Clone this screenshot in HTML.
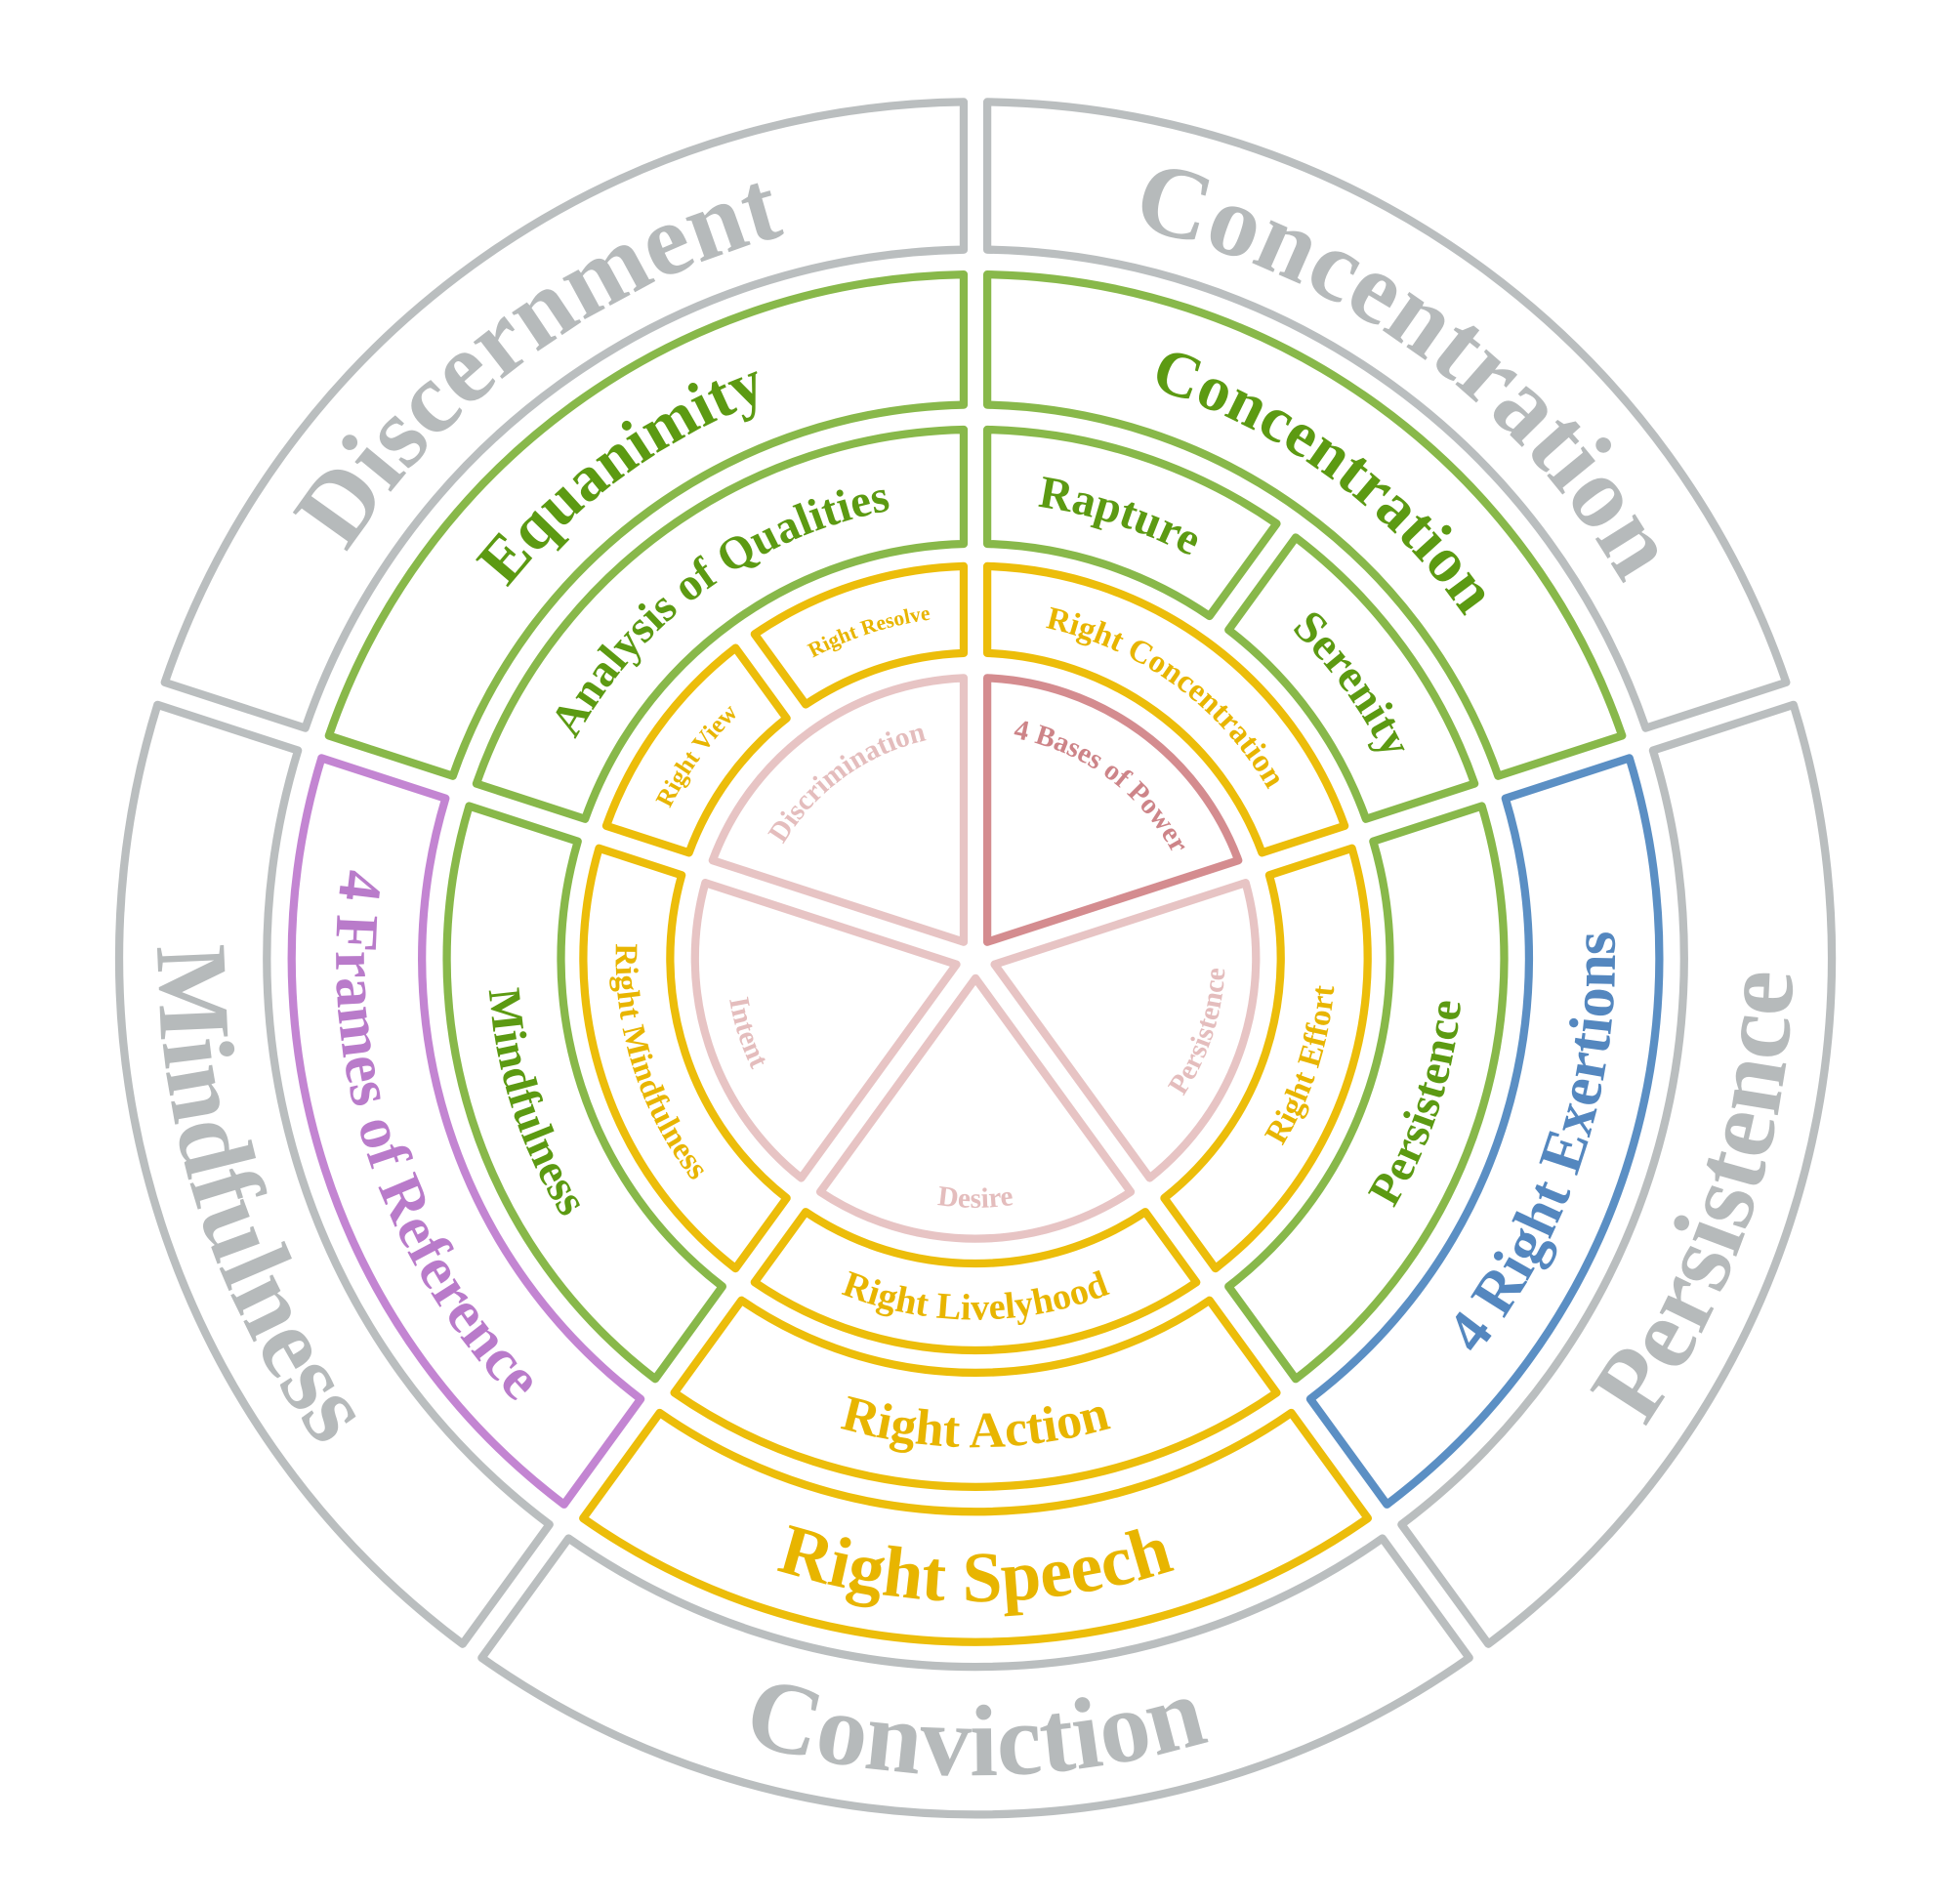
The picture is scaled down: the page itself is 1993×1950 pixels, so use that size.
<!DOCTYPE html>
<html><head><meta charset="utf-8">
<style>
html,body{margin:0;padding:0;background:#fff;}
svg{display:block;}
text{font-family:"Liberation Serif",serif;font-weight:bold;text-anchor:middle;}
.gy{fill:#b6babb;font-size:82px;}
.gr2{fill:#5c9a12;font-size:52px;}
.gr3{fill:#5c9a12;font-size:37px;}
.y2{fill:#e8b500;font-size:58px;}
.y3{fill:#e8b500;font-size:41px;}
.y4{fill:#e8b500;font-size:26px;}
.pu{fill:#b97bca;font-size:49px;}
.bl{fill:#5487bf;font-size:49px;}
.pk{fill:#e4bdbd;font-size:23px;}
.pkd{fill:#cd8488;font-size:23px;}
</style></head>
<body>
<svg id="s" width="1993" height="1950" viewBox="0 0 1568 1534" xmlns="http://www.w3.org/2000/svg" xmlns:xlink="http://www.w3.org/1999/xlink">
<g id="segs" fill="none" stroke-width="6.5" stroke-linejoin="round"></g>
<defs id="defs"></defs>
<text class="gy"><textPath href="#p_disc" xlink:href="#p_disc" startOffset="50%">Discernment</textPath></text>
<text class="gy"><textPath href="#p_conc" xlink:href="#p_conc" startOffset="50%">Concentration</textPath></text>
<text class="gy"><textPath href="#p_pers" xlink:href="#p_pers" startOffset="50%">Persistence</textPath></text>
<text class="gy"><textPath href="#p_conv" xlink:href="#p_conv" startOffset="50%">Conviction</textPath></text>
<text class="gy"><textPath href="#p_mind" xlink:href="#p_mind" startOffset="50%">Mindfulness</textPath></text>

<text class="gr2"><textPath href="#p_equa" xlink:href="#p_equa" startOffset="50%">Equanimity</textPath></text>
<text class="gr2"><textPath href="#p_conc2" xlink:href="#p_conc2" startOffset="50%">Concentration</textPath></text>
<text class="bl"><textPath href="#p_exer" xlink:href="#p_exer" startOffset="50%">4 Right Exertions</textPath></text>
<text class="y2"><textPath href="#p_spee" xlink:href="#p_spee" startOffset="50%">Right Speech</textPath></text>
<text class="pu"><textPath href="#p_fram" xlink:href="#p_fram" startOffset="50%">4 Frames of Reference</textPath></text>

<text class="gr3"><textPath href="#p_anal" xlink:href="#p_anal" startOffset="50%">Analysis of Qualities</textPath></text>
<text class="gr3"><textPath href="#p_rapt" xlink:href="#p_rapt" startOffset="50%">Rapture</textPath></text>
<text class="gr3"><textPath href="#p_sere" xlink:href="#p_sere" startOffset="50%">Serenity</textPath></text>
<text class="gr3"><textPath href="#p_pers3" xlink:href="#p_pers3" startOffset="50%">Persistence</textPath></text>
<text class="y3"><textPath href="#p_acti" xlink:href="#p_acti" startOffset="50%">Right Action</textPath></text>
<text class="gr3"><textPath href="#p_mind3" xlink:href="#p_mind3" startOffset="50%">Mindfulness</textPath></text>

<text class="y4" style="font-size:20px"><textPath href="#p_view" xlink:href="#p_view" startOffset="50%">Right View</textPath></text>
<text class="y4" style="font-size:17px"><textPath href="#p_reso" xlink:href="#p_reso" startOffset="50%">Right Resolve</textPath></text>
<text class="y4"><textPath href="#p_rcon" xlink:href="#p_rcon" startOffset="50%">Right Concentration</textPath></text>
<text class="y4"><textPath href="#p_effo" xlink:href="#p_effo" startOffset="50%">Right Effort</textPath></text>
<text class="y4" style="font-size:30px"><textPath href="#p_live" xlink:href="#p_live" startOffset="50%">Right Livelyhood</textPath></text>
<text class="y4"><textPath href="#p_rmin" xlink:href="#p_rmin" startOffset="50%">Right Mindfulness</textPath></text>

<text class="pk"><textPath href="#p_disr" xlink:href="#p_disr" startOffset="50%">Discrimination</textPath></text>
<text class="pkd"><textPath href="#p_base" xlink:href="#p_base" startOffset="50%">4 Bases of Power</textPath></text>
<text class="pk"><textPath href="#p_ppers" xlink:href="#p_ppers" startOffset="50%">Persistence</textPath></text>
<text class="pk"><textPath href="#p_desi" xlink:href="#p_desi" startOffset="50%">Desire</textPath></text>
<text class="pk"><textPath href="#p_inte" xlink:href="#p_inte" startOffset="50%">Intent</textPath></text>
</svg>
<script>
(function(){
var NS="http://www.w3.org/2000/svg";
var C=[786,772],G=9.5;
function pt(r,a){a=a*Math.PI/180;return (C[0]+r*Math.cos(a)).toFixed(2)+" "+(C[1]+r*Math.sin(a)).toFixed(2);}
function deg(x){return x*180/Math.PI;}
function seg(r1,r2,a1,a2){
  var d2=deg(Math.asin(G/r2));
  var s="M"+pt(r2,a1+d2)+" A"+r2+" "+r2+" 0 0 1 "+pt(r2,a2-d2);
  if(r1>0){var d1=deg(Math.asin(G/r1));
    s+=" L"+pt(r1,a2-d1)+" A"+r1+" "+r1+" 0 0 0 "+pt(r1,a1+d1)+" Z";}
  else{var h=(a2-a1)/2*Math.PI/180;s+=" L"+pt(G/Math.sin(h),(a1+a2)/2)+" Z";}
  return s;
}
var segs=document.getElementById("segs"),defs=document.getElementById("defs");
function add(r1,r2,a1,a2,col,id,fs,tr){
  var p=document.createElementNS(NS,"path");p.setAttribute("d",seg(r1,r2,a1,a2));p.setAttribute("stroke",col);segs.appendChild(p);
  var mid=(a1+a2)/2, top=(mid<0||mid>180);
  var r;
  if(tr){r=top?tr[0]:tr[1];}
  else{var m=(r1+r2)/2;r=top?m-0.34*fs:m+0.34*fs;}
  var q=document.createElementNS(NS,"path");q.setAttribute("id",id);
  if(top)q.setAttribute("d","M"+pt(r,a1)+" A"+r+" "+r+" 0 0 1 "+pt(r,a2));
  else q.setAttribute("d","M"+pt(r,a2)+" A"+r+" "+r+" 0 0 0 "+pt(r,a1));
  defs.appendChild(q);
}
var GY="#babebf",GN="#88b84a",YL="#ecbd0a",PU="#c385d2",BL="#5b8fc4",PK="#e7c4c4",PKD="#d48c8f";
add(571,690,-162,-90,GY,"p_disc",82);
add(571,690,-90,-18,GY,"p_conc",82);
add(571,690,-18,54,GY,"p_pers",82);
add(571,690,54,126,GY,"p_conv",82);
add(571,690,126,198,GY,"p_mind",82);
add(446,551,-162,-90,GN,"p_equa",52);
add(446,551,-90,-18,GN,"p_conc2",52);
add(446,551,-18,54,BL,"p_exer",49);
add(446,551,54,126,YL,"p_spee",58);
add(446,551,126,198,PU,"p_fram",49);
add(334,426,-162,-90,GN,"p_anal",37);
add(334,426,-90,-54,GN,"p_rapt",37);
add(334,426,-54,-18,GN,"p_sere",37);
add(334,426,-18,54,GN,"p_pers3",37);
add(334,426,54,126,YL,"p_acti",41);
add(334,426,126,198,GN,"p_mind3",37);
add(246,316,-162,-126,YL,"p_view",20);
add(246,316,-126,-90,YL,"p_reso",17);
add(246,316,-90,-18,YL,"p_rcon",26);
add(246,316,-18,54,YL,"p_effo",26);
add(246,316,54,126,YL,"p_live",30);
add(246,316,126,198,YL,"p_rmin",26);
add(0,226,-162,-90,PK,"p_disr",23,[180,201]);
add(0,226,-90,-18,PKD,"p_base",23,[180,201]);
add(0,226,-18,54,PK,"p_ppers",23,[180,201]);
add(0,226,54,126,PK,"p_desi",23,[180,201]);
add(0,226,126,198,PK,"p_inte",23,[180,201]);
})();
</script>
</body></html>
